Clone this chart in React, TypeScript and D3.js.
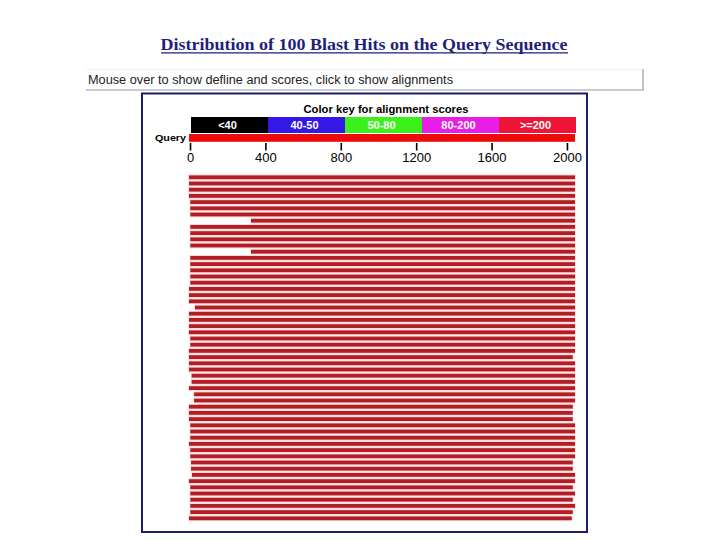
import React from "react";
import * as d3 from "d3";

const titleText = "Distribution of 100 Blast Hits on the Query Sequence";
const helpText = "Mouse over to show defline and scores, click to show alignments";
const keyTitle = "Color key for alignment scores";
const scoreCategories = ["<40", "40-50", "50-80", "80-200", ">=200"];
const scoreColors = ["#000000", "#3418e6", "#3cf01c", "#e81ee8", "#ee1438"];
const axisTicks = [0, 400, 800, 1200, 1600, 2000];
const queryLength = 2048;

const hitStarts = [
  0, 0, 0, 0, 7, 7, 7, 329, 7, 7, 7, 7, 329, 7, 7, 7, 7, 7, 0, 0,
  0, 32, 0, 0, 0, 0, 7, 7, 0, 0, 0, 0, 14, 14, 0, 27, 27, 0, 0, 0,
  7, 7, 7, 0, 7, 7, 11, 11, 16, 0, 7, 7, 7, 7, 7, 0,
];
const hitEnds = [
  2048, 2048, 2048, 2048, 2048, 2048, 2048, 2048, 2048, 2048, 2048, 2048, 2048, 2048, 2048, 2048, 2048, 2048, 2048, 2048,
  2048, 2048, 2048, 2048, 2048, 2048, 2048, 2048, 2048, 2036, 2048, 2048, 2048, 2048, 2048, 2048, 2048, 2036, 2036, 2036,
  2048, 2048, 2048, 2048, 2048, 2048, 2036, 2036, 2048, 2048, 2036, 2048, 2036, 2048, 2036, 2031,
];

export default function App() {
  const x = d3.scaleLinear().domain([0, queryLength]).range([189, 575]);
  const keyBand = d3.scaleBand<string>().domain(scoreCategories).range([191, 576]).padding(0);
  const hitIdx = hitStarts.map((_, i) => i);
  const y = d3.scaleBand<number>().domain(hitIdx).range([174.2, 521.4]).padding(0);
  const barH = 3.8;
  const sans = "'Liberation Sans', Arial, sans-serif";

  return (
    <svg
      width={720}
      height={540}
      style={{ position: "absolute", left: 0, top: 0, background: "#fff" }}
    >
      <rect x={0} y={0} width={720} height={540} fill="#ffffff" />
      {/* Title */}
      <text
        x={364}
        y={50}
        textAnchor="middle"
        fontFamily="'Liberation Serif', 'Times New Roman', serif"
        fontWeight="bold"
        fontSize={17.5}
        fill="#1f1f7a"
        textLength={407}
        lengthAdjust="spacingAndGlyphs"
      >
        {titleText}
      </text>
      <line x1={161} x2={568} y1={52.8} y2={52.8} stroke="#1f1f7a" strokeWidth={1.2} />

      {/* help text box */}
      <line x1={86} x2={643} y1={69.5} y2={69.5} stroke="#f0f0f0" strokeWidth={1} />
      <line x1={86} x2={643.5} y1={90} y2={90} stroke="#9a9a9a" strokeWidth={1.2} />
      <line x1={643} x2={643} y1={69} y2={90} stroke="#9a9a9a" strokeWidth={1.2} />
      <text
        x={88}
        y={84}
        fontFamily={sans}
        fontSize={12.5}
        fill="#222"
        textLength={365}
        lengthAdjust="spacingAndGlyphs"
      >
        {helpText}
      </text>

      {/* Outer blue frame */}
      <rect x={142} y={93.5} width={445} height={438.5} fill="none" stroke="#1c1c6c" strokeWidth={2} />

      {/* Color key */}
      <text
        x={386}
        y={112.5}
        textAnchor="middle"
        fontFamily={sans}
        fontWeight="bold"
        fontSize={10.5}
        fill="#000"
        textLength={165}
        lengthAdjust="spacingAndGlyphs"
      >
        {keyTitle}
      </text>
      {scoreCategories.map((c, i) => (
        <g key={c}>
          <rect x={keyBand(c)} y={117} width={keyBand.bandwidth()} height={16} fill={scoreColors[i]} />
          <text
            x={(keyBand(c) as number) + keyBand.bandwidth() / 2 - 2}
            y={129}
            textAnchor="middle"
            fontFamily={sans}
            fontWeight="bold"
            fontSize={11}
            fill="#ffffff"
          >
            {c}
          </text>
        </g>
      ))}

      {/* Query bar */}
      <text
        x={155}
        y={141}
        fontFamily={sans}
        fontWeight="bold"
        fontSize={9.5}
        fill="#000"
        textLength={31}
        lengthAdjust="spacingAndGlyphs"
      >
        Query
      </text>
      <rect x={x(0)} y={134} width={x(queryLength) - x(0)} height={7.8} fill="#ee0a0a" />

      {/* Axis ticks */}
      {axisTicks.map((t) => (
        <g key={t}>
          <line x1={x(t) + 1.5} x2={x(t) + 1.5} y1={143} y2={150.5} stroke="#000" strokeWidth={1.6} />
          <text
            x={x(t) + 1.5}
            y={161.5}
            textAnchor="middle"
            fontFamily={sans}
            fontSize={13}
            fill="#000"
          >
            {t}
          </text>
        </g>
      ))}

      {/* Hits: halo then bar */}
      {hitIdx.map((i) => {
        const cy = (y(i) as number) + y.bandwidth() / 2;
        return (
          <g key={i}>
            <rect
              x={x(hitStarts[i]) - 0.8}
              y={cy - 2.9}
              width={x(hitEnds[i]) - x(hitStarts[i]) + 1.6}
              height={5.8}
              fill="#fbd9da"
            />
            <rect
              x={x(hitStarts[i])}
              y={cy - barH / 2}
              width={x(hitEnds[i]) - x(hitStarts[i])}
              height={barH}
              fill="#b31e25"
            />
          </g>
        );
      })}
    </svg>
  );
}
